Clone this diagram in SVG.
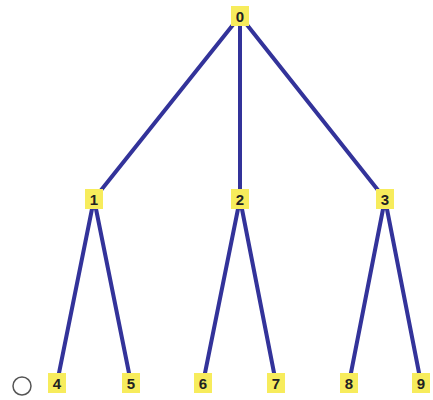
<svg xmlns="http://www.w3.org/2000/svg" width="433" height="400" viewBox="0 0 433 400">
<style>
.edge{stroke:#33339a;stroke-width:4;fill:none;stroke-linecap:round}
.box{fill:#f7ec5c}
.lbl{font-family:"Liberation Sans",Arial,sans-serif;font-weight:bold;font-size:15px;fill:#222;text-anchor:middle;dominant-baseline:central}
</style>
<rect width="433" height="400" fill="#fff"/>
<g id="connectors">
<line class="edge" x1="240" y1="16" x2="94" y2="199"/>
<line class="edge" x1="240" y1="16" x2="240" y2="199"/>
<line class="edge" x1="240" y1="16" x2="385" y2="199"/>
<line class="edge" x1="94" y1="199" x2="57" y2="383"/>
<line class="edge" x1="94" y1="199" x2="131" y2="383"/>
<line class="edge" x1="240" y1="199" x2="203" y2="383"/>
<line class="edge" x1="240" y1="199" x2="276" y2="383"/>
<line class="edge" x1="385" y1="199" x2="349" y2="383"/>
<line class="edge" x1="385" y1="199" x2="421" y2="383"/>
</g>
<g id="n0"><rect class="box" x="231" y="6" width="18" height="20"/><text class="lbl" x="240" y="16">0</text></g>
<g id="n1"><rect class="box" x="85" y="189" width="18" height="20"/><text class="lbl" x="94" y="199">1</text></g>
<g id="n2"><rect class="box" x="231" y="189" width="18" height="20"/><text class="lbl" x="240" y="199">2</text></g>
<g id="n3"><rect class="box" x="376" y="189" width="18" height="20"/><text class="lbl" x="385" y="199">3</text></g>
<g id="n4"><rect class="box" x="48" y="373" width="18" height="20"/><text class="lbl" x="57" y="383">4</text></g>
<g id="n5"><rect class="box" x="122" y="373" width="18" height="20"/><text class="lbl" x="131" y="383">5</text></g>
<g id="n6"><rect class="box" x="194" y="373" width="18" height="20"/><text class="lbl" x="203" y="383">6</text></g>
<g id="n7"><rect class="box" x="267" y="373" width="18" height="20"/><text class="lbl" x="276" y="383">7</text></g>
<g id="n8"><rect class="box" x="340" y="373" width="18" height="20"/><text class="lbl" x="349" y="383">8</text></g>
<g id="n9"><rect class="box" x="412" y="373" width="18" height="20"/><text class="lbl" x="421" y="383">9</text></g>
<circle cx="22" cy="386" r="9" fill="none" stroke="#555" stroke-width="1.5"/>
</svg>
